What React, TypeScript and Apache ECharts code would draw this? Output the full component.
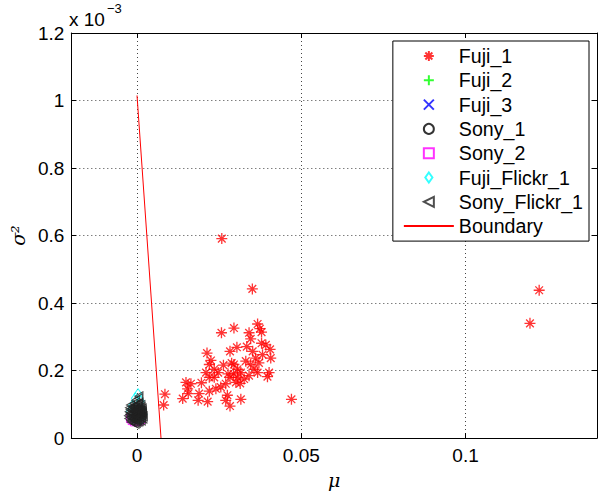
import React, { useEffect, useRef } from "react";
import * as echarts from "echarts";

// y values are in units of 1e-3 (axis shows "x 10^-3")
const fuji1: [number, number][] = [
  [0.0258, 0.591], [0.0351, 0.442], [0.1224, 0.438], [0.1196, 0.340],
  [0.0257, 0.312], [0.0295, 0.326], [0.0341, 0.312], [0.0367, 0.338],
  [0.0374, 0.324], [0.0379, 0.314], [0.0346, 0.294], [0.0304, 0.269],
  [0.0283, 0.257], [0.0379, 0.281], [0.0392, 0.276], [0.0405, 0.263],
  [0.0213, 0.252], [0.0225, 0.230], [0.0220, 0.218], [0.0235, 0.204],
  [0.0263, 0.216], [0.0247, 0.194], [0.0210, 0.194], [0.0220, 0.180],
  [0.0277, 0.190], [0.0295, 0.218], [0.0306, 0.204], [0.0294, 0.190],
  [0.0316, 0.194], [0.0331, 0.228], [0.0346, 0.218], [0.0361, 0.237],
  [0.0371, 0.223], [0.0382, 0.247], [0.0407, 0.237], [0.0356, 0.204],
  [0.0367, 0.194], [0.0341, 0.185], [0.0326, 0.175], [0.0314, 0.162],
  [0.0306, 0.180], [0.0402, 0.194], [0.0397, 0.182], [0.0283, 0.180],
  [0.0270, 0.161], [0.0255, 0.151], [0.0240, 0.146], [0.0220, 0.139],
  [0.0196, 0.164], [0.0164, 0.161], [0.0149, 0.165], [0.0154, 0.146],
  [0.0156, 0.132], [0.0139, 0.117], [0.0189, 0.132], [0.0186, 0.112],
  [0.0215, 0.108], [0.0275, 0.127], [0.0270, 0.112], [0.0283, 0.095],
  [0.0316, 0.115], [0.0470, 0.115], [0.0085, 0.130], [0.0081, 0.098],
  [0.0301, 0.165], [0.0235, 0.180], [0.0334, 0.271], [0.0352, 0.257],
  [0.0288, 0.222],
];
const fuji2: [number, number][] = [[-0.0005, 0.070], [0.0003, 0.078], [0.0, 0.064]];
const fuji3: [number, number][] = [[-0.0003, 0.072], [0.0005, 0.070], [0.0002, 0.083]];
const sony1: [number, number][] = [
  [-0.001, 0.065], [0.0, 0.075], [0.0008, 0.068], [-0.0005, 0.085], [0.0005, 0.080],
];
const sony2: [number, number][] = [
  [-0.0015, 0.052], [-0.0008, 0.048], [0.0004, 0.050], [0.0012, 0.055], [-0.002, 0.058],
];
const fujiFlickr1: [number, number][] = [
  [0.0003, 0.130], [-0.0005, 0.118], [0.001, 0.110], [-0.0015, 0.095], [0.0015, 0.085],
  [-0.002, 0.080], [0.0018, 0.070], [-0.0012, 0.060], [0.0005, 0.062], [0.0012, 0.056],
];
const sonyFlickr1: [number, number][] = [
  [-0.002, 0.062], [-0.0018, 0.075], [-0.0015, 0.088], [-0.0012, 0.055], [-0.001, 0.068],
  [-0.0008, 0.080], [-0.0006, 0.095], [-0.0005, 0.050], [-0.0003, 0.060], [-0.0002, 0.072],
  [0.0, 0.085], [0.0001, 0.100], [0.0002, 0.055], [0.0004, 0.066], [0.0005, 0.078],
  [0.0006, 0.090], [0.0008, 0.058], [0.001, 0.070], [0.0011, 0.082], [0.0012, 0.098],
  [0.0014, 0.062], [0.0015, 0.075], [-0.0022, 0.070], [-0.0016, 0.058], [-0.0004, 0.112],
  [0.0004, 0.118], [0.0006, 0.124], [-0.0002, 0.045], [0.0003, 0.048], [-0.0009, 0.102],
  [0.0016, 0.088], [-0.0013, 0.092], [0.0002, 0.092], [-0.0007, 0.064], [0.0006, 0.105],
  [-0.0026, 0.066], [-0.0024, 0.078], [-0.0021, 0.085], [-0.0019, 0.052], [-0.0017, 0.068],
  [-0.0014, 0.072], [-0.0011, 0.080], [-0.0009, 0.058], [-0.0007, 0.088], [-0.0004, 0.068],
  [-0.0001, 0.078], [0.0001, 0.062], [0.0003, 0.072], [0.0005, 0.085], [0.0007, 0.064],
  [0.0009, 0.076], [0.0011, 0.060], [0.0013, 0.068], [0.0015, 0.082], [0.0017, 0.072],
  [0.0019, 0.065], [-0.0025, 0.058], [-0.0023, 0.090], [-0.002, 0.098], [-0.0018, 0.048],
  [-0.0012, 0.046], [-0.0006, 0.042], [0.0, 0.052], [0.0007, 0.050], [0.0013, 0.052],
  [0.0018, 0.058], [-0.0015, 0.064], [-0.0005, 0.076], [0.0003, 0.082], [0.0009, 0.088],
  [-0.001, 0.094], [-0.0003, 0.098], [0.0004, 0.100], [-0.0016, 0.082], [0.0012, 0.092],
  [-0.0008, 0.070], [0.0001, 0.068], [0.0008, 0.080], [-0.0021, 0.074], [0.0016, 0.078],
];
const boundary: [number, number][] = [[0, 1.015], [0.0073, 0]];

const xTicks = [0, 0.05, 0.1];
const seriesNames = [
  "Fuji_1", "Fuji_2", "Fuji_3", "Sony_1", "Sony_2", "Fuji_Flickr_1", "Sony_Flickr_1", "Boundary",
];

const FONT = "'Liberation Sans', Arial, Helvetica, sans-serif";

const STAR = "path://M5 0L5 10M0 5L10 5M1.5 1.5L8.5 8.5M1.5 8.5L8.5 1.5";
const PLUS = "path://M5 0L5 10M0 5L10 5";
const CROSS = "path://M0 0L10 10M0 10L10 0";
const LTRI = "path://M10 0L0 5L10 10Z";
const SQUARE = "path://M0 0L10 0L10 10L0 10Z";
const DIAMOND = "path://M5 0L10 7L5 14L0 7Z";

export default function App() {
  const ref = useRef<HTMLDivElement>(null);
  useEffect(() => {
    if (!ref.current) return;
    const chart = echarts.init(ref.current, undefined, { renderer: "svg" });
    const hollow = (c: string) => ({ color: "rgba(0,0,0,0)", borderColor: c, borderWidth: 1 });
    const scatter = (name: string, data: [number, number][], symbol: string, size: any, color: string, fill = false, bw = 1) => ({
      name,
      type: "scatter",
      data,
      symbol,
      symbolSize: size,
      itemStyle: fill ? { color, borderColor: color, borderWidth: bw } : hollow(color),
    });
    const option: any = {
      animation: false,
      grid: { left: 70, right: 4, top: 33, bottom: 45 },
      xAxis: [
        {
          type: "value",
          min: -0.02,
          max: 0.14,
          position: "bottom",
          axisLine: { show: true, onZero: false, lineStyle: { color: "#000", width: 1 } },
          axisTick: { show: true, inside: true, length: 5, customValues: xTicks, lineStyle: { color: "#000" } },
          axisLabel: { customValues: xTicks, color: "#000", fontSize: 19, fontFamily: FONT, margin: 8 },
          splitLine: { show: true, lineStyle: { color: "#444", type: [1, 3], width: 1 } },
          name: "μ",
          nameLocation: "middle",
          nameGap: 22,
          nameTextStyle: { color: "#000", fontSize: 19, fontStyle: "italic", fontFamily: "'DejaVu Serif', serif" },
        },
        {
          type: "value",
          min: -0.02,
          max: 0.14,
          position: "top",
          axisLine: { show: true, onZero: false, lineStyle: { color: "#000", width: 1 } },
          axisTick: { show: true, inside: true, length: 5, customValues: xTicks, lineStyle: { color: "#000" } },
          axisLabel: { show: false },
          splitLine: { show: false },
        },
      ],
      yAxis: [
        {
          type: "value",
          min: 0,
          max: 1.2,
          interval: 0.2,
          position: "left",
          axisLine: { show: true, onZero: false, lineStyle: { color: "#000", width: 1 } },
          axisTick: { show: true, inside: true, length: 5, lineStyle: { color: "#000" } },
          axisLabel: { color: "#000", fontSize: 19, fontFamily: FONT, margin: 7 },
          splitLine: { show: true, lineStyle: { color: "#444", type: [1, 3], width: 1 } },
          name: "σ²",
          nameLocation: "middle",
          nameGap: 28,
          nameRotate: 90,
          nameTextStyle: { color: "#000", fontSize: 19, fontStyle: "italic", fontFamily: "'DejaVu Serif', serif" },
        },
        {
          type: "value",
          min: 0,
          max: 1.2,
          interval: 0.2,
          position: "right",
          axisLine: { show: true, onZero: false, lineStyle: { color: "#000", width: 1 } },
          axisTick: { show: true, inside: true, length: 5, lineStyle: { color: "#000" } },
          axisLabel: { show: false },
          splitLine: { show: false },
        },
      ],
      legend: {
        data: seriesNames.map((n) =>
          n === "Boundary" ? { name: n, itemStyle: { opacity: 0 } } : { name: n }
        ),
        orient: "vertical",
        right: 12,
        top: 41,
        align: "left",
        itemWidth: 50,
        itemHeight: 10,
        itemGap: 4.3,
        padding: [5, 6, 5, 10],
        borderColor: "#000",
        borderWidth: 1,
        backgroundColor: "#fff",
        textStyle: { color: "#000", fontSize: 19.6, lineHeight: 20, fontFamily: FONT },
      },
      graphic: [
        { type: "text", left: 69, top: 10, style: { text: "x 10", fontSize: 19, fontFamily: FONT, fill: "#000" } },
        { type: "text", left: 107, top: 2, style: { text: "−3", fontSize: 13, fontFamily: FONT, fill: "#000" } },
      ],
      series: [
        scatter("Fuji_1", fuji1, STAR, 11, "#ff0000", true, 1.3),
        scatter("Fuji_2", fuji2, PLUS, 9, "#00ff00", true),
        scatter("Fuji_3", fuji3, CROSS, 7, "#0000ff", true),
        scatter("Sony_1", sony1, "circle", 8, "#000000"),
        scatter("Sony_2", sony2, SQUARE, 8, "#ff00ff"),
        scatter("Fuji_Flickr_1", fujiFlickr1, DIAMOND, [8, 11], "#00ffff"),
        scatter("Sony_Flickr_1", sonyFlickr1, LTRI, [8, 9], "#222222"),
        {
          name: "Boundary",
          type: "line",
          data: boundary,
          symbol: "none",
          lineStyle: { color: "#ff0000", width: 1 },
          itemStyle: { color: "#ff0000" },
        },
      ],
    };
    chart.setOption(option);
    return () => chart.dispose();
  }, []);
  return (
    <div
      ref={ref}
      style={{ position: "fixed", left: 0, top: 0, width: 601, height: 494, background: "#fff" }}
    />
  );
}
